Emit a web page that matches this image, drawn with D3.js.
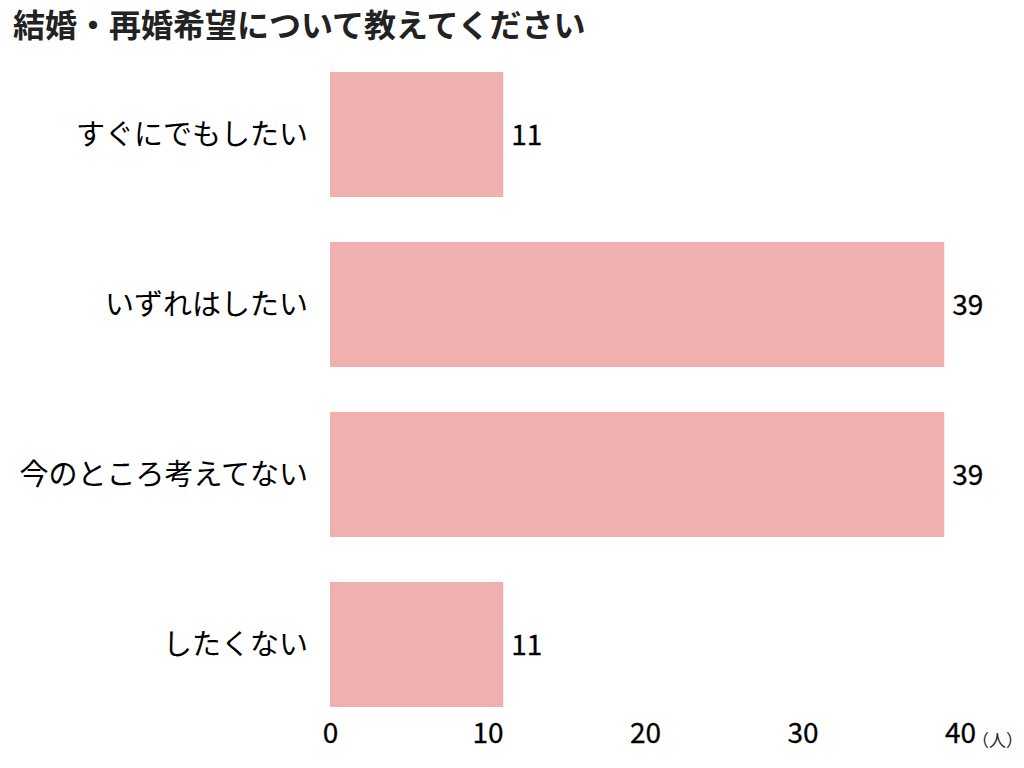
<!DOCTYPE html>
<html>
<head>
<meta charset="utf-8">
<script src="https://cdn.jsdelivr.net/npm/d3@7"></script>
<style>
  body { margin: 0; background: #fff; }
  svg text { font-family: "Noto Sans CJK JP", "Noto Sans", sans-serif; fill: #111; }
</style>
</head>
<body>
<svg id="chart" width="1024" height="768"></svg>
<script>
// データ
const categories = ["すぐにでもしたい", "いずれはしたい", "今のところ考えてない", "したくない"];
const counts = [11, 39, 39, 11];
const tickValues = [0, 10, 20, 30, 40];
const title = "結婚・再婚希望について教えてください";
const unitLabel = "（人）";

const svg = d3.select("#chart");

svg.append("text")
  .attr("x", 13)
  .attr("y", 37)
  .attr("font-size", 32)
  .attr("font-weight", "bold")
  .style("fill", "#222")
  .text(title);

const x = d3.scaleLinear()
  .domain([0, 40])
  .range([330, 960]);

const y = d3.scaleBand()
  .domain(categories)
  .range([49.5, 729.5])
  .paddingInner(45 / 170)
  .paddingOuter(45 / 340);

const data = categories.map((c, i) => ({ label: c, value: counts[i] }));

// bars
svg.selectAll(".bar")
  .data(data)
  .enter().append("rect")
  .attr("class", "bar")
  .attr("x", x(0))
  .attr("y", d => y(d.label))
  .attr("width", d => x(d.value) - x(0))
  .attr("height", y.bandwidth())
  .attr("fill", "#f1b0b0");

// value labels
svg.selectAll(".val")
  .data(data)
  .enter().append("text")
  .attr("class", "val")
  .attr("x", d => x(d.value) + 8)
  .attr("y", d => y(d.label) + y.bandwidth() / 2)
  .attr("dy", "0.36em")
  .attr("font-size", 28)
  .style("fill", "#000")
  .style("stroke", "#000")
  .style("stroke-width", 0.3)
  .text(d => d.value);

// category axis (no line, no ticks)
const yAxis = svg.append("g")
  .attr("transform", "translate(330,0)")
  .call(d3.axisLeft(y).tickSize(0).tickPadding(22));
yAxis.select(".domain").remove();
yAxis.selectAll("text")
  .attr("font-size", 29)
  .attr("dy", "0.36em")
  .style("font-family", "'Noto Sans CJK JP', sans-serif")
  .style("fill", "#000");

// value axis
const xAxis = svg.append("g")
  .attr("transform", "translate(0,715)")
  .call(d3.axisBottom(x).tickValues(tickValues).tickSize(0).tickPadding(0));
xAxis.select(".domain").remove();
xAxis.selectAll("text")
  .attr("font-size", 28)
  .attr("dy", "0.71em")
  .attr("y", 8)
  .style("font-family", "'Noto Sans CJK JP', sans-serif")
  .style("fill", "#000")
  .style("stroke", "#000")
  .style("stroke-width", 0.3);

svg.append("text")
  .attr("x", 1023)
  .attr("y", 747)
  .attr("text-anchor", "end")
  .attr("font-size", 17)
  .style("fill", "#222")
  .text(unitLabel);
</script>
</body>
</html>
